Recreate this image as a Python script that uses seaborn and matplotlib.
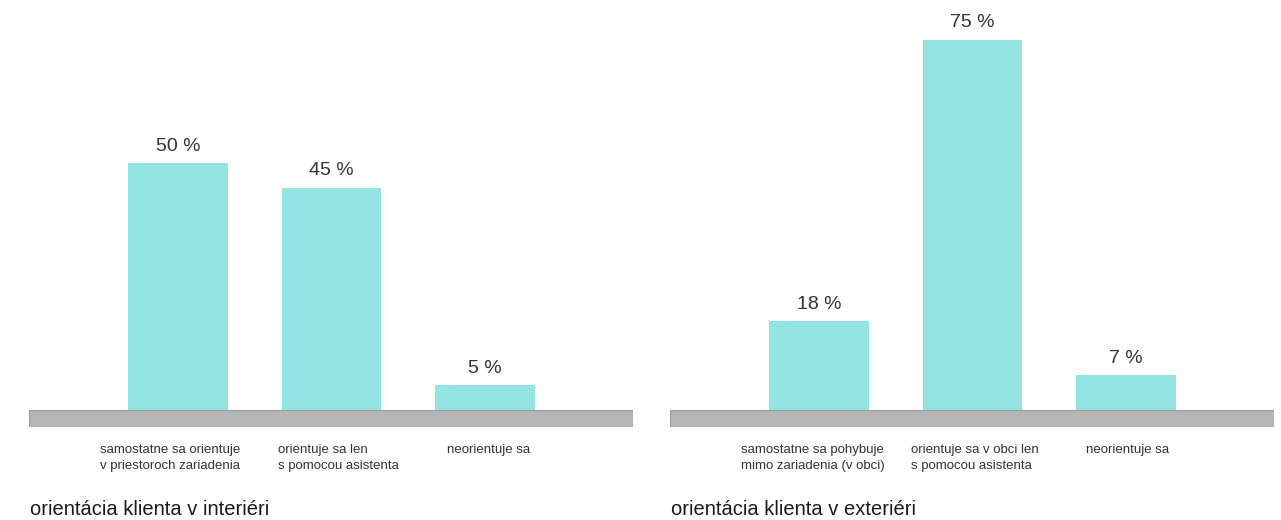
import matplotlib
matplotlib.use("Agg")
import matplotlib.pyplot as plt
import seaborn as sns
import pandas as pd

# Data
interior_categories = [
    "samostatne sa orientuje\nv priestoroch zariadenia",
    "orientuje sa len\ns pomocou asistenta",
    "neorientuje sa",
]
interior_values = [50, 45, 5]

exterior_categories = [
    "samostatne sa pohybuje\nmimo zariadenia (v obci)",
    "orientuje sa v obci len\ns pomocou asistenta",
    "neorientuje sa",
]
exterior_values = [18, 75, 7]

titles = ["orientácia klienta v interiéri", "orientácia klienta v exteriéri"]

# Style
sns.set_style("white")
plt.rcParams["font.family"] = ["Liberation Sans", "DejaVu Sans"]

BAR_COLOR = "#93e4e2"
FLOOR_COLOR = "#b6b6b6"
FLOOR_EDGE = "#9c9c9c"
TEXT_COLOR = "#333333"

W, H = 1281, 520
fig = plt.figure(figsize=(W / 100, H / 100), dpi=100)
fig.patch.set_facecolor("white")

panels = [
    (29, interior_categories, interior_values, titles[0], [-0.51, -0.35, -0.25]),
    (670, exterior_categories, exterior_values, titles[1], [-0.51, -0.40, -0.26]),
]

axes_w = 604
axes_h = 427
floor_depth = 3.44   # thickness of the grey floor band, in % units
y_top = 83.0

for left_px, cats, vals, title, label_offsets in panels:
    ax = fig.add_axes([left_px / W, (H - axes_h) / H, axes_w / W, axes_h / H])
    df = pd.DataFrame({"kategória": cats, "podiel": vals})
    sns.barplot(data=df, x="kategória", y="podiel", ax=ax, color=BAR_COLOR,
                saturation=1, width=0.651, edgecolor="none", zorder=2)

    # grey floor under the bars
    ax.axhspan(-floor_depth, 0, facecolor=FLOOR_COLOR, edgecolor=FLOOR_EDGE,
               linewidth=0.8, zorder=3)

    ax.set_xlim(-0.971, 2.964)
    ax.set_ylim(-floor_depth, y_top)
    for s in ax.spines.values():
        s.set_visible(False)
    ax.set_xticks([])
    ax.set_yticks([])
    ax.set_xlabel("")
    ax.set_ylabel("")
    ax.set_facecolor("none")

    # value labels above bars
    for i, v in enumerate(vals):
        ax.annotate(f"{v} %", xy=(i, v), xytext=(0, 6), textcoords="offset points",
                    ha="center", va="bottom", fontsize=14, color=TEXT_COLOR)

    # category labels under the floor
    for i, (c, off) in enumerate(zip(cats, label_offsets)):
        ax.annotate(c, xy=(i + off, 0), xycoords=("data", "axes fraction"),
                    xytext=(0, -12), textcoords="offset points",
                    ha="left", va="top", fontsize=9.5, color=TEXT_COLOR,
                    linespacing=1.5, annotation_clip=False)

    fig.text((left_px + 1) / W, (H - 515) / H, title, ha="left", va="baseline",
             fontsize=14.5, color="#1a1a1a")

fig.savefig("out.png", dpi=100, facecolor="white")
